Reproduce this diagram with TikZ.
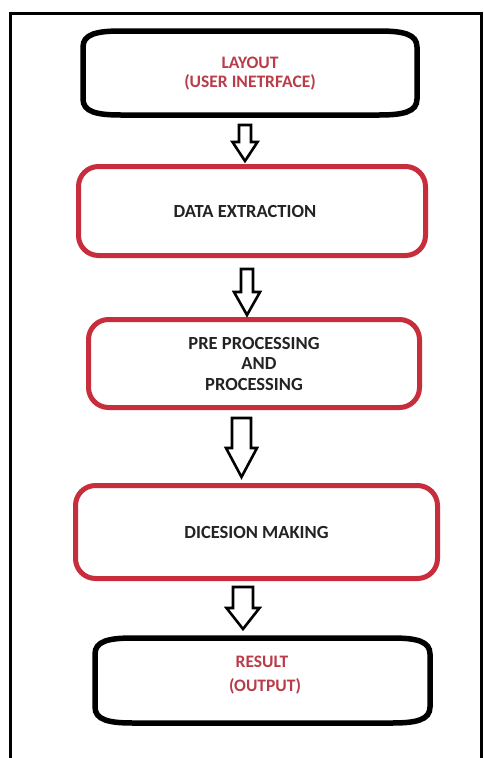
\documentclass[tikz,border=0pt]{standalone}
\usepackage{fontspec}
\setmainfont{Carlito}
\definecolor{boxred}{RGB}{200,45,60}
\definecolor{txtred}{RGB}{185,60,72}
\definecolor{txtdark}{RGB}{35,35,35}
\tikzset{
  redbox/.style={draw=boxred, line width=5pt, rounded corners=20pt, fill=white,
    font=\bfseries\fontsize{18.5}{20}\selectfont, text=txtdark, align=center, inner sep=0pt},
  blackshape/.style={draw=black, line width=5.5pt, fill=white},
  blacklabel/.style={font=\bfseries\fontsize{17.5}{19}\selectfont, text=txtred, align=center, inner sep=0pt},
  blockarrow/.style={draw=black, line width=2.6pt, fill=white, line join=miter},
  frame/.style={draw=black, line width=3pt}
}
% barrel shape: x1,y1,x2,y2 (line centre)
\newcommand\barrelshape[4]{%
  \draw[blackshape] (#1,#2+16) .. controls (#1,#2+3) and (#1+14,#2) .. (#1+38,#2)
    -- (#3-38,#2) .. controls (#3-14,#2) and (#3,#2+3) .. (#3,#2+16)
    -- (#3,#4-16) .. controls (#3,#4-3) and (#3-14,#4) .. (#3-38,#4)
    -- (#1+38,#4) .. controls (#1+14,#4) and (#1,#4-3) .. (#1,#4-16) -- cycle;}
% block arrow: cx, top, headstart, tip, shaft half width, head half width
\newcommand\blockarrowat[6]{%
  \draw[blockarrow] (#1-#5,#2) -- (#1+#5,#2) -- (#1+#5,#3) -- (#1+#6,#3)
    -- (#1,#4) -- (#1-#6,#3) -- (#1-#5,#3) -- cycle;}
\begin{document}
\begin{tikzpicture}[x=1pt,y=-1pt]
\useasboundingbox[fill=white] (0,0) rectangle (483,758);
% outer frame
\draw[frame] (10.5,762) -- (10.5,13.5) -- (481.5,13.5) -- (481.5,762);

% box 1 (layout)
\barrelshape{83}{31}{417}{115}
\node[blacklabel] (layout) at (250,74) {LAYOUT\\(USER INETRFACE)};

% box 2
\node[redbox, minimum width=347pt, minimum height=89pt] (extract) at (252,211) {\hspace*{-14pt}DATA EXTRACTION};

% box 3
\node[redbox, minimum width=331pt, minimum height=88pt, font=\bfseries\fontsize{18.5}{20.5}\selectfont] (preproc) at (254,363.5) {PRE PROCESSING\\\hspace*{10pt}AND\\PROCESSING};

% box 4
\node[redbox, minimum width=362pt, minimum height=93pt] (decision) at (256.5,532) {DICESION MAKING};

% box 5 (result)
\barrelshape{95}{638}{430}{723}
\node[blacklabel, font=\bfseries\fontsize{17.5}{24}\selectfont] (result) at (262,675) {RESULT\\\hspace*{6pt}(OUTPUT)};

% block arrows
\blockarrowat{245}{125}{142}{161}{6}{12.5}
\blockarrowat{247}{269}{292}{315}{6}{13}
\blockarrowat{241.5}{418}{448}{477}{9.5}{15.5}
\blockarrowat{243}{587}{608}{629}{10}{16.5}
\end{tikzpicture}
\end{document}
